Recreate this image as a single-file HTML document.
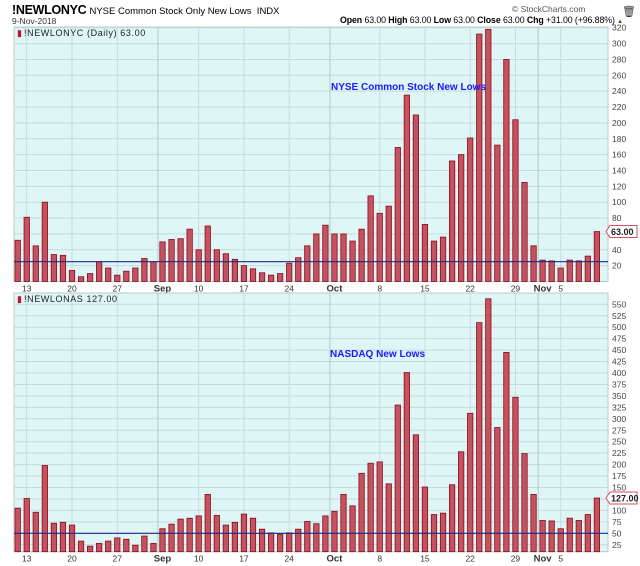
<!DOCTYPE html>
<html><head><meta charset="utf-8">
<style>
body{margin:0;width:640px;height:566px;background:#fff;font-family:"Liberation Sans",sans-serif;overflow:hidden;position:relative}
.t{position:absolute;white-space:nowrap}
</style></head>
<body>
<div class="t" style="left:12px;top:3px;font-size:11px;"><b style="font-size:12.5px;letter-spacing:-0.3px">!NEWLONYC</b> <span style="font-size:9.5px">NYSE Common Stock Only New Lows&nbsp; INDX</span></div>
<div class="t" style="left:12px;top:16px;font-size:8.5px;color:#333">9-Nov-2018</div>
<div class="t" style="left:512px;top:4px;font-size:8.5px;color:#555">© StockCharts.com</div>
<div class="t" style="left:622px;top:5px;font-size:11px;color:#333">🗑</div>
<div class="t" style="left:340px;top:15px;font-size:8.8px;letter-spacing:-0.1px"><b>Open</b> 63.00 <b>High</b> 63.00 <b>Low</b> 63.00 <b>Close</b> 63.00 <b>Chg</b> +31.00 (+96.88%) <span style="color:green;font-size:6px">▲</span></div>
<svg id="chart" width="640" height="566" style="position:absolute;left:0;top:0"></svg>
<script>
const nyseValues=[52,81,45,100,34,33,14,6,10,25,17,8,13,17,29,25,50,53,54,66,40,70,40,35,28,20,16,11,8,10,23,30,45,60,71,60,60,51,66,108,86,95,169,235,210,72,51,56,152,160,181,312,318,172,280,204,125,45,27,26,17,27,26,32,63];
const nasdaqValues=[105,126,96,198,72,74,68,33,22,28,33,40,37,24,44,28,60,70,81,83,88,135,89,68,74,92,83,59,51,48,51,59,76,71,88,98,135,110,181,203,206,158,330,401,265,151,91,94,156,228,312,510,562,281,445,347,224,135,78,77,60,83,78,91,127];
const xTickIdx=[1,6,11,16,20,25,30,35,40,45,50,55,58,60];
const xTickLabels=["13","20","27","Sep","10","17","24","Oct","8","15","22","29","Nov","5"];
const monthTicks=["Sep","Oct","Nov"];
const nyseTicks=[20,40,60,80,100,120,140,160,180,200,220,240,260,280,300,320];
const nasdaqTicks=[25,50,75,100,125,150,175,200,225,250,275,300,325,350,375,400,425,450,475,500,525,550];
const nyseRef=25, nasdaqRef=50;
const NS="http://www.w3.org/2000/svg";
const svg=document.getElementById('chart');
function mk(tag,attrs,parent){const e=document.createElementNS(NS,tag);for(const k in attrs)e.setAttribute(k,attrs[k]);(parent||svg).appendChild(e);return e;}
const L=14,R=608;
function xFor(i){return 17.7+9.05*i;}
function panel(cfg){
  const yFor=v=>cfg.zeroY-v*cfg.k;
  const g=mk('g',{});
  
  
  const bg=mk('rect',{x:L,y:cfg.top,width:R-L,height:cfg.bottom-cfg.top,fill:'#def6f6',stroke:'#b9c9c9'},g);
  
  
  cfg.ticks.forEach(v=>{
    const y=yFor(v);
    const ln=mk('line',{x1:L,x2:R,y1:y,y2:y,stroke:'#c5dcdc','stroke-width':1},g);
    
    
    const t=mk('text',{x:R+4,y:y+3,'font-size':8.5,fill:'#444','font-family':'Liberation Sans'},g);
    t.textContent=v;
    
    
  });
  xTickIdx.forEach((idx,j)=>{
    const x=xFor(idx)-(monthTicks.includes(xTickLabels[j])?4.5:0);
    const ln=mk('line',{x1:x,x2:x,y1:cfg.top,y2:cfg.bottom,stroke:monthTicks.includes(xTickLabels[j])?'#b5c8c8':'#c8dcdc','stroke-width':1},g);
    
    
    const t=mk('text',{x:xFor(idx),y:cfg.bottom+10,'font-size':monthTicks.includes(xTickLabels[j])?9.5:8.5,'font-weight':monthTicks.includes(xTickLabels[j])?'bold':'normal','text-anchor':'middle',fill:'#333','font-family':'Liberation Sans'},g);
    t.textContent=xTickLabels[j];
    
    
  });
  cfg.values.forEach((v,i)=>{
    const y=Math.max(yFor(v),cfg.top);
    const b=mk('rect',{x:xFor(i)-2.7,y:y,width:5.4,height:cfg.bottom-y,fill:'#c4525f',stroke:'#8e0a1c','stroke-width':0.8},g);
    
    
  });
  const ry=yFor(cfg.ref);
  const rl=mk('line',{x1:L,x2:R,y1:ry,y2:ry,stroke:'#1c2a86','stroke-width':1.2},g);
  
  
  const last=cfg.values[cfg.values.length-1], ly=yFor(last);
  const tag=mk('path',{d:`M${R-2} ${ly} L${R+2} ${ly-6} L${R+29} ${ly-6} L${R+29} ${ly+6} L${R+2} ${ly+6} Z`,fill:'#fff',stroke:'#d05060'},g);
  
  
  const tt=mk('text',{x:R+3,y:ly+3.5,'font-size':9,'font-weight':'bold',fill:'#222','font-family':'Liberation Sans'},g);
  tt.textContent=last.toFixed(2);
  
  
  const ic=mk('text',{x:L+3,y:cfg.top+9,'font-size':9,fill:'#c0142a','font-family':'Liberation Sans'},g);
  ic.textContent='▮';
  
  
  const pt=mk('text',{x:L+10,y:cfg.top+9,'font-size':9,fill:'#222','font-family':'Liberation Sans','letter-spacing':'0.6'},g);
  pt.textContent=cfg.title;
  
  
  const an=mk('text',{x:cfg.annX,y:cfg.annY,'font-size':10,'font-weight':'bold',fill:'#1a1aff','font-family':'Liberation Sans'},g);
  an.textContent=cfg.ann;
  
  
}
panel({name:'nyse',values:nyseValues,ticks:nyseTicks,ref:nyseRef,top:27,bottom:281.5,zeroY:281.5,k:0.793,title:'!NEWLONYC (Daily) 63.00',ann:'NYSE Common Stock New Lows',annX:331,annY:90});
panel({name:'nasdaq',values:nasdaqValues,ticks:nasdaqTicks,ref:nasdaqRef,top:293,bottom:551.7,zeroY:556.2,k:0.458,title:'!NEWLONAS 127.00',ann:'NASDAQ New Lows',annX:330,annY:357});
</script>
</body></html>
